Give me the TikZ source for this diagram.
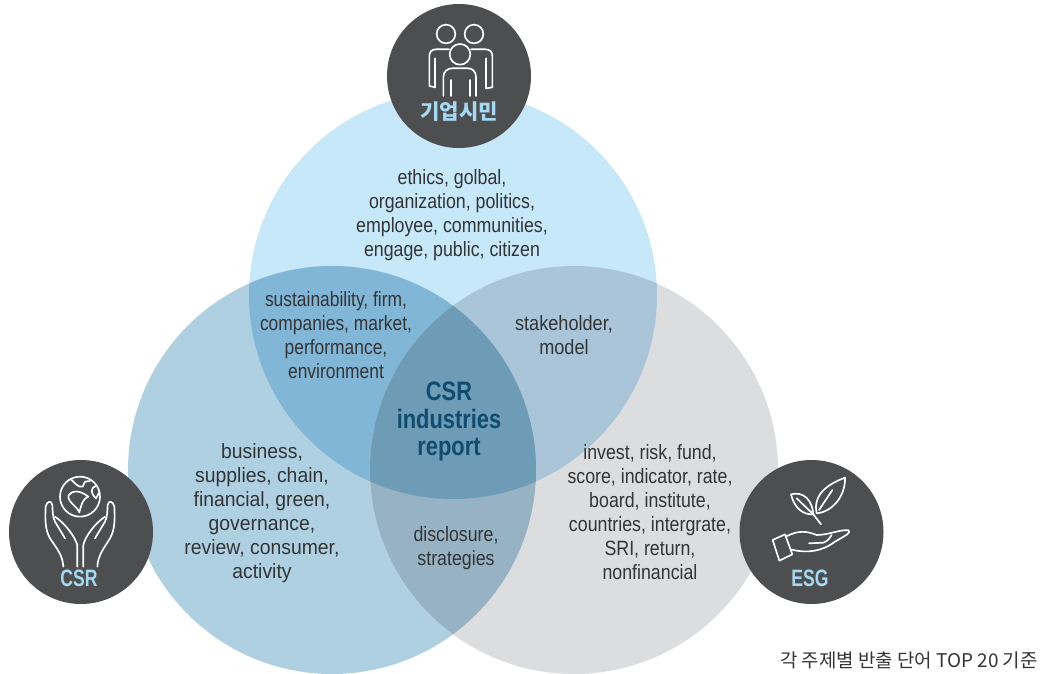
\documentclass[tikz,border=0pt]{standalone}
\usepackage{fontspec}
\setmainfont{Liberation Sans}
\newfontfamily\krfont{Noto Sans CJK KR}
\definecolor{topblue}{HTML}{C6E8F9}
\definecolor{leftblue}{HTML}{AED0E1}
\definecolor{rightgrey}{HTML}{DCDDDF}
\definecolor{topleft}{HTML}{82B6D6}
\definecolor{topright}{HTML}{A9C5D7}
\definecolor{leftright}{HTML}{97B2C3}
\definecolor{middle}{HTML}{6E9BB6}
\definecolor{badge}{HTML}{4D4E50}
\definecolor{badgetext}{HTML}{A5D8F1}
\definecolor{deepblue}{HTML}{0F4C70}
\definecolor{wordgrey}{HTML}{333436}
\tikzset{
  wordlist/.style={align=center,text=wordgrey,inner sep=0pt,xscale=.86,font=\fontsize{15.5}{18}\selectfont},
  badgedisc/.style={circle,fill=badge,minimum size=108pt,inner sep=0pt},
  badgelabel/.style={text=badgetext,inner sep=0pt,font=\bfseries\fontsize{17.8}{20}\selectfont},
  iconline/.style={draw=white,line width=1.25pt,line join=round,line cap=round},
}
\begin{document}
\begin{tikzpicture}[x=.75pt,y=-.75pt]
\def\r{204}
\useasboundingbox (0,0) rectangle (1046,674);
% circles
\fill[topblue] (453,295) circle (\r);
\fill[leftblue] (332,470) circle (\r);
\fill[rightgrey] (574,470) circle (\r);
% overlaps
\begin{scope}
\clip (453,295) circle (\r);
\fill[topleft] (332,470) circle (\r);
\fill[topright] (574,470) circle (\r);
\end{scope}
\begin{scope}
\clip (332,470) circle (\r);
\fill[leftright] (574,470) circle (\r);
\clip (453,295) circle (\r);
\fill[middle] (574,470) circle (\r);
\end{scope}
% badges
\node[badgedisc] (citizen) at (459,76) {};
\node[badgedisc] (csr) at (81,532) {};
\node[badgedisc] (esg) at (811.5,532) {};
% people icon
\begin{scope}[shift={(380,0)},scale=1/3]
\draw[iconline] (198,102) circle (28) (282,102) circle (28) (240,163) circle (31);
\draw[iconline] (207,148)--(168,148)..controls (155,148) and (148,156) ..(148,168)--(148,258)--(165,262)--(165,175);
\draw[iconline] (273,148)--(316,148)..controls (330,148) and (337,156) ..(337,168)--(337,262)--(318,265)--(318,175);
\draw[iconline] (190,288)--(190,232)..controls (190,215) and (202,205) ..(216,205)--(264,205)..controls (278,205) and (288,215) ..(288,232)--(288,288);
\draw[iconline] (212,240)--(212,288) (270,240)--(270,288);
\end{scope}
% hands and globe icon
\begin{scope}[shift={(0,455)},scale=1/3]
\draw[iconline] (240,125) circle (60);
\draw[iconline] (205,122)..controls (215,105) and (240,105) ..(265,125)..controls (250,130) and (245,145) ..(238,172)..controls (228,150) and (205,145) ..(205,122);
\draw[iconline] (212,72)..controls (225,85) and (235,98) ..(248,95)--(255,80)--(270,78);
\draw[iconline] (288,92)..controls (270,100) and (272,115) ..(288,130)--(298,112);
\draw[iconline] (190,335)..controls (188,300) and (170,280) ..(150,250)..controls (135,225) and (135,190) ..(137,155)..controls (140,138) and (155,135) ..(157,150)..controls (158,170) and (158,185) ..(165,200)--(195,250);
\draw[iconline] (165,185)..controls (195,205) and (225,245) ..(232,270)--(232,335);
\draw[iconline] (292,335)..controls (294,300) and (312,280) ..(330,250)..controls (345,225) and (345,190) ..(343,155)..controls (340,138) and (325,135) ..(323,150)..controls (322,170) and (322,185) ..(315,200)--(285,250);
\draw[iconline] (315,185)..controls (285,205) and (255,245) ..(250,270)--(250,335);
\end{scope}
% plant and hand icon
\begin{scope}[shift={(735,455)},scale=1/3]
\draw[iconline] (245,175)..controls (232,115) and (285,85) ..(330,68)..controls (332,120) and (295,170) ..(245,175);
\draw[iconline] (252,165)--(292,105);
\draw[iconline] (168,118)..controls (205,108) and (232,135) ..(235,178)..controls (205,180) and (178,160) ..(168,118);
\draw[iconline] (185,130)--(235,178)--(258,208);
\draw[iconline] (113,255)--(150,238)--(172,298)--(133,317)--cycle;
\draw[iconline] (152,245)..controls (190,225) and (215,228) ..(245,240)..controls (280,240) and (320,222) ..(340,226)..controls (350,232) and (335,240) ..(300,260)..controls (260,290) and (215,295) ..(170,284);
\draw[iconline] (222,265)--(265,263)..controls (278,258) and (285,250) ..(290,240);
\end{scope}
% badge labels
\node[inner sep=0pt,text=badgetext,font=\krfont\bfseries\fontsize{15.8}{20}\selectfont] (citizenlabel) at (459,112) {기업시민};
\node[badgelabel,xscale=.74] (csrlabel) at (79,578) {CSR};
\node[badgelabel,xscale=.74] (esglabel) at (810,578) {ESG};
% word lists
\node[wordlist] (citizenwords) at (452,215.5) {ethics, golbal,\\organization, politics,\\employee, communities,\\engage, public, citizen};
\node[wordlist,xscale=.98] (topleftwords) at (336,335.5) {sustainability, firm,\\companies, market,\\performance,\\environment};
\node[wordlist,xscale=1.02] (toprightwords) at (564,335) {stakeholder,\\model};
\node[wordlist,xscale=1.09] (csrwords) at (262,513.5) {business,\\supplies, chain,\\financial, green,\\governance,\\review, consumer,\\activity};
\node[wordlist] (esgwords) at (650,512.5) {invest, risk, fund,\\score, indicator, rate,\\board, institute,\\countries, intergrate,\\SRI, return,\\nonfinancial};
\node[wordlist] (bottomwords) at (456,548.5) {disclosure,\\strategies};
\node[align=center,text=deepblue,inner sep=0pt,xscale=.82,font=\bfseries\fontsize{20}{20.5}\selectfont] (centerwords) at (449,421.5) {CSR\\industries\\report};
\node[anchor=east,inner sep=0pt,text=wordgrey,font=\krfont\fontsize{14.2}{15}\selectfont] (footnote) at (1038,660) {각 주제별 반출 단어 TOP 20 기준};
\end{tikzpicture}
\end{document}
